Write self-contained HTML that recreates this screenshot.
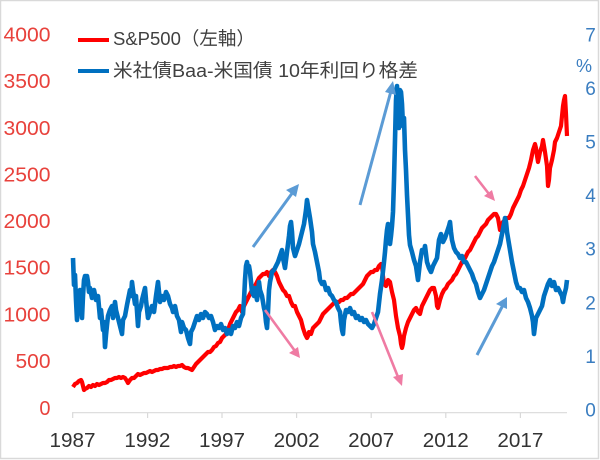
<!DOCTYPE html>
<html><head><meta charset="utf-8"><style>
html,body{margin:0;padding:0;background:#fff;}
svg{display:block;}
text{font-family:"Liberation Sans","Noto Sans CJK JP",sans-serif;}
</style></head><body>
<svg width="600" height="460" viewBox="0 0 600 460" xmlns="http://www.w3.org/2000/svg">
<rect x="0.5" y="0.5" width="598" height="458" fill="#fff" stroke="#d9d9d9" stroke-width="1.5"/>
<!-- left axis labels -->
<g fill="#E8423C" font-size="20" text-anchor="end">
<text x="50.5" y="41.5" textLength="47" lengthAdjust="spacingAndGlyphs">4000</text>
<text x="50.5" y="88.2" textLength="47" lengthAdjust="spacingAndGlyphs">3500</text>
<text x="50.5" y="134.8" textLength="47" lengthAdjust="spacingAndGlyphs">3000</text>
<text x="50.5" y="181.4" textLength="47" lengthAdjust="spacingAndGlyphs">2500</text>
<text x="50.5" y="228" textLength="47" lengthAdjust="spacingAndGlyphs">2000</text>
<text x="50.5" y="274.7" textLength="47" lengthAdjust="spacingAndGlyphs">1500</text>
<text x="50.5" y="321.5" textLength="47" lengthAdjust="spacingAndGlyphs">1000</text>
<text x="50.5" y="368.2" textLength="35" lengthAdjust="spacingAndGlyphs">500</text>
<text x="50.5" y="415">0</text>
</g>
<!-- right axis labels -->
<g fill="#3A7DC0" font-size="19" text-anchor="middle">
<text x="590.5" y="41.5">7</text>
<text x="590.5" y="95">6</text>
<text x="590.5" y="148.5">5</text>
<text x="590.5" y="202">4</text>
<text x="590.5" y="255.7">3</text>
<text x="590.5" y="309.3">2</text>
<text x="590.5" y="363">1</text>
<text x="590.5" y="416.5">0</text>
<text x="584" y="72" font-size="18">%</text>
</g>
<!-- x axis -->
<line x1="72" y1="412.7" x2="567" y2="412.7" stroke="#d9d9d9" stroke-width="1.2"/>
<g stroke="#d9d9d9" stroke-width="1.2">
<line x1="72.7" y1="412.7" x2="72.7" y2="418"/>
<line x1="147.6" y1="412.7" x2="147.6" y2="418"/>
<line x1="222" y1="412.7" x2="222" y2="418"/>
<line x1="296.6" y1="412.7" x2="296.6" y2="418"/>
<line x1="371.2" y1="412.7" x2="371.2" y2="418"/>
<line x1="445.8" y1="412.7" x2="445.8" y2="418"/>
<line x1="520.4" y1="412.7" x2="520.4" y2="418"/>
</g>
<g fill="#333" font-size="20.5" text-anchor="middle">
<text x="72.5" y="447" textLength="46" lengthAdjust="spacingAndGlyphs">1987</text>
<text x="147.4" y="447" textLength="46" lengthAdjust="spacingAndGlyphs">1992</text>
<text x="222" y="447" textLength="46" lengthAdjust="spacingAndGlyphs">1997</text>
<text x="296.6" y="447" textLength="46" lengthAdjust="spacingAndGlyphs">2002</text>
<text x="371.2" y="447" textLength="46" lengthAdjust="spacingAndGlyphs">2007</text>
<text x="445.8" y="447" textLength="46" lengthAdjust="spacingAndGlyphs">2012</text>
<text x="520.4" y="447" textLength="46" lengthAdjust="spacingAndGlyphs">2017</text>
</g>
<!-- legend -->
<line x1="78" y1="40" x2="109" y2="40" stroke="#FF0000" stroke-width="4"/>
<line x1="78" y1="71" x2="109" y2="71" stroke="#0070C0" stroke-width="4"/>
<text x="113" y="45" font-size="18.5" fill="#404040">S&amp;P500（左軸）</text>
<text x="113" y="77" font-size="18.5" fill="#404040" textLength="305" lengthAdjust="spacingAndGlyphs">米社債Baa-米国債 10年利回り格差</text>
<!-- S&P500 red -->
<polyline fill="none" stroke="#FF0000" stroke-width="4.2" stroke-linejoin="round" points="73,387 75,384 77,383 79,381 81,380 82,382 83,386 84,390 85,389 87,388 89,386 91,387 93,385 95,386 97,384 99,385 101,384 103,383 105,383 107,382 109,380 111,380 113,379 115,378 117,378 119,377 121,378 123,377 125,378 127,381 128,383 130,380 132,378 134,378 136,376 138,374 140,375 142,374 144,373 146,373 148,372 150,371 152,372 154,371 156,370 158,370 160,369 162,369 164,368 166,368 168,368 170,367 172,367 174,366 176,367 178,366 180,366 182,365 184,367 186,368 188,368 190,369 192,370 194,367 196,364 198,362 200,360 202,358 204,356 206,354 208,352 210,352 212,350 214,347 216,346 218,343 220,342 222,338 224,336 226,334 228,330 230,324 232,320 234,316 236,312 238,310 240,306 242,312 243,308 245,304 247,300 249,296 251,292 253,288 255,286 257,282 259,278 261,276 263,274 265,274 267,272 269,276 271,272 273,270 275,272 277,276 279,282 281,286 283,290 285,292 287,296 289,296 291,302 293,306 295,306 297,312 299,316 301,320 303,328 305,334 307,338 308,336 309,332 311,334 313,328 315,326 317,324 319,322 321,318 323,314 325,312 327,310 329,308 331,306 333,304 335,302 337,302 339,302 341,300 343,300 345,298 347,298 349,296 351,294 353,294 355,292 357,290 359,288 361,286 363,284 365,280 367,276 369,274 371,272 373,272 375,270 377,270 379,266 381,264 382,266 383,276 384,284 386,286 388,280 390,282 392,292 394,300 396,316 398,328 400,336 401,344 402,348 403,344 404,336 406,328 408,322 410,318 412,314 414,310 416,308 418,312 420,314 422,306 424,302 426,298 428,294 430,290 432,288 434,288 436,296 437,306 438,308 440,300 442,294 444,290 446,288 448,284 450,282 452,280 454,276 456,274 458,270 460,266 462,262 464,260 466,256 468,252 470,250 472,246 474,242 476,238 478,236 480,232 482,228 484,226 486,224 488,220 490,218 492,216 494,214 496,214 498,218 499,224 500,230 501,226 503,222 505,220 507,218 509,218 511,214 513,208 515,204 517,200 519,196 521,190 523,186 525,180 527,174 529,168 531,160 533,150 535,144 536,148 537,156 538,162 540,152 542,146 543,140 545,152 547,166 548,186 549,180 550,168 552,160 554,150 555,142 557,138 559,132 561,126 562,116 563,106 564,100 565,96 566,114 567,136"/>
<!-- spread blue -->
<polyline fill="none" stroke="#0070C0" stroke-width="4.6" stroke-linejoin="round" points="73,258 74,285 75,275 76,300 77,320 78,295 79,312 80,290 81,305 82,318 83,296 84,280 85,276 86,284 87,276 88,282 89,292 90,288 92,298 94,290 96,300 98,296 100,318 101,310 103,330 104,322 105,347 106,335 107,325 108,316 110,310 112,306 113,318 115,302 116,310 118,318 120,326 122,334 123,320 125,316 127,305 128,300 130,290 131,296 132,282 133,290 135,304 136,296 138,326 139,312 141,306 142,300 144,292 145,288 146,300 148,318 150,312 152,306 154,312 156,296 158,282 159,292 160,302 162,296 164,300 166,292 168,296 170,304 172,308 173,312 175,306 177,316 179,320 181,332 182,322 184,328 186,330 188,338 190,344 191,332 193,328 195,322 197,316 199,320 201,314 203,318 205,312 207,314 209,318 211,316 213,322 215,330 217,326 219,328 221,324 223,330 225,328 227,334 229,330 231,334 233,326 235,328 237,322 239,326 241,318 243,314 244,300 245,280 246,266 247,262 248,268 249,266 250,272 251,282 252,292 254,296 255,288 257,300 258,292 259,282 260,290 262,296 263,302 264,308 265,312 266,322 267,328 268,312 269,290 270,282 272,272 274,270 276,266 278,262 280,256 282,250 283,258 285,268 287,252 289,236 290,226 291,222 292,232 293,248 295,256 297,250 299,244 301,236 302,232 304,224 306,210 307,200 308,206 310,218 312,232 313,244 315,252 317,262 319,272 320,280 322,284 324,282 326,290 328,288 330,294 332,296 334,300 336,302 338,308 340,312 341,322 342,330 343,334 344,320 346,310 348,312 350,308 352,314 354,312 356,318 358,316 360,320 362,318 364,322 366,320 368,324 370,326 372,328 374,324 376,318 378,312 380,294 382,280 384,262 385,252 386,240 387,230 388,224 389,234 390,244 391,236 392,226 393,212 394,180 395,140 396,100 397,86 398,110 399,128 400,90 401,92 402,104 403,126 404,118 405,150 406,170 407,195 408,215 409,235 410,245 412,252 414,260 416,266 418,280 420,262 422,250 424,252 425,246 427,262 429,268 431,272 433,266 435,262 437,258 439,240 441,234 443,242 445,238 447,232 449,226 450,222 451,232 452,240 454,248 456,252 458,254 460,258 462,256 464,262 466,262 468,266 470,270 472,274 474,280 476,284 478,292 480,298 482,294 484,290 486,284 488,278 490,272 492,266 494,262 496,256 498,250 500,244 502,234 504,224 505,218 506,222 507,232 508,238 510,250 512,262 514,272 516,282 518,288 520,288 522,292 524,290 526,298 528,302 530,308 532,316 533,322 534,334 535,326 536,318 538,314 540,310 542,306 544,296 546,290 548,284 550,280 552,286 554,282 556,290 558,288 560,292 562,296 563,302 564,296 566,288 567,280"/>
<!-- blue arrows -->
<g stroke="#5B9BD5" stroke-width="3" fill="#5B9BD5">
<line x1="253" y1="247" x2="293" y2="192"/>
<polygon points="299,184 286,190 296,197" stroke="none"/>
<line x1="360" y1="205" x2="391" y2="91"/>
<polygon points="393,81 385,92 396,95" stroke="none"/>
<line x1="477" y1="355" x2="503" y2="305"/>
<polygon points="507,297 496,304 507,309" stroke="none"/>
</g>
<!-- pink arrows -->
<g stroke="#EF7BA3" stroke-width="2.6" fill="#EF7BA3">
<line x1="265" y1="310" x2="295" y2="351"/>
<polygon points="300,358 289,353 298,347" stroke="none"/>
<line x1="372" y1="312" x2="398" y2="377"/>
<polygon points="402,386 393,377 403,374" stroke="none"/>
<line x1="475" y1="176" x2="489" y2="194"/>
<polygon points="495,201 484,196 492,190" stroke="none"/>
</g>
</svg>
</body></html>
